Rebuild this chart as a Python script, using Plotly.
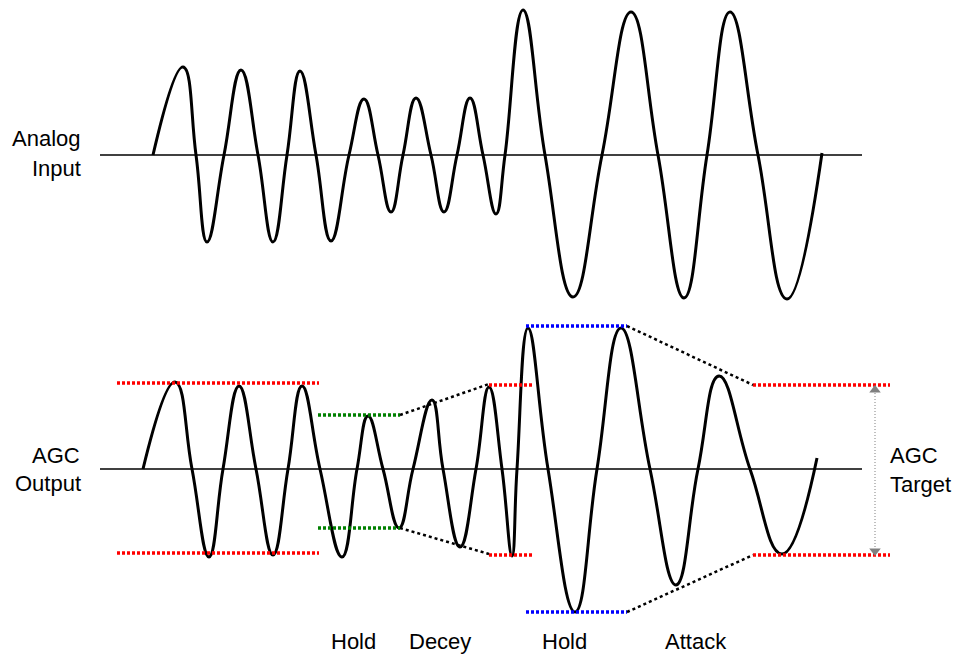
import plotly.graph_objects as go

# Analog input: start, peaks / troughs and zero crossings
input_x = [153, 183, 196, 207, 224, 241, 258, 273, 287, 300, 316, 331, 349, 364, 378,
           391, 403, 416, 431, 444, 457, 470, 483, 496, 505, 523, 545, 573, 602, 631,
           658, 684, 707, 730, 758, 787, 822]
input_y = [155, 67, 155, 242, 155, 70, 155, 242, 155, 71, 155, 241, 155, 99, 155,
           212, 155, 98, 155, 212, 155, 98, 155, 214, 155, 10, 155, 297, 155, 12,
           155, 298, 155, 12, 155, 299, 153]

# AGC output
output_x = [143, 175, 192, 209, 223, 239, 256, 273, 288, 302, 320, 342, 357, 368, 383,
            399, 413, 432, 443, 460, 476, 489, 502, 512, 517, 528, 548, 575, 597, 621,
            650, 676, 698, 719, 750, 782, 817]
output_y = [469, 382, 469, 557, 469, 386, 469, 555, 469, 386, 469, 557, 469, 416, 469,
            528, 469, 400, 469, 547, 469, 387, 469, 556, 469, 328, 469, 612, 469, 328,
            469, 585, 469, 376, 469, 554, 458]

input_zero = 155
output_zero = 469
zero_x = [100, 862]

# envelope levels (segments split by None)
target_x = [117, 319, None, 117, 319, None, 489, 533, None, 489, 533, None, 753, 890, None, 753, 890]
target_y = [383, 383, None, 553, 553, None, 385, 385, None, 555, 555, None, 385, 385, None, 555, 555]
hold1_x = [318, 400, None, 318, 400]
hold1_y = [415, 415, None, 528, 528]
hold2_x = [526, 627, None, 526, 627]
hold2_y = [326, 326, None, 612, 612]
ramp_x = [400, 489, None, 400, 489, None, 627, 753, None, 627, 753]
ramp_y = [415, 384, None, 528, 554, None, 326, 385, None, 612, 555]

span_x = [875, 875]
span_y = [390, 551]

phase_labels = ["Hold", "Decey", "Hold", "Attack"]
phase_x = [353, 440, 564, 696]

fig = go.Figure()

fig.add_trace(go.Scatter(x=zero_x, y=[input_zero] * 2, mode='lines',
                         line=dict(color='black', width=1.5)))
fig.add_trace(go.Scatter(x=zero_x, y=[output_zero] * 2, mode='lines',
                         line=dict(color='black', width=1.5)))

fig.add_trace(go.Scatter(x=input_x, y=input_y, mode='lines',
                         line=dict(color='black', width=3, shape='spline', smoothing=1.3)))
fig.add_trace(go.Scatter(x=output_x, y=output_y, mode='lines',
                         line=dict(color='black', width=3, shape='spline', smoothing=1.3)))

dots = "3px,2px"
fig.add_trace(go.Scatter(x=target_x, y=target_y, mode='lines',
                         line=dict(color='#ff0000', width=3.5, dash=dots)))
fig.add_trace(go.Scatter(x=hold1_x, y=hold1_y, mode='lines',
                         line=dict(color='#008000', width=3.5, dash=dots)))
fig.add_trace(go.Scatter(x=hold2_x, y=hold2_y, mode='lines',
                         line=dict(color='#0000ff', width=3.5, dash=dots)))
fig.add_trace(go.Scatter(x=ramp_x, y=ramp_y, mode='lines',
                         line=dict(color='black', width=2.5, dash="3px,3px")))

# AGC target span with arrow heads
fig.add_trace(go.Scatter(x=span_x, y=span_y, mode='lines',
                         line=dict(color='#808080', width=1, dash="1px,2px")))
fig.add_trace(go.Scatter(x=span_x, y=span_y, mode='markers',
                         marker=dict(symbol=['triangle-up', 'triangle-down'], size=10,
                                     color='#808080')))

font = dict(family="Liberation Sans, Arial, sans-serif", size=22, color='black')
fig.add_annotation(x=83, y=138, text="Analog", xanchor='right', showarrow=False, font=font)
fig.add_annotation(x=83, y=168, text="Input", xanchor='right', showarrow=False, font=font)
fig.add_annotation(x=82, y=455, text="AGC", xanchor='right', showarrow=False, font=font)
fig.add_annotation(x=83, y=483, text="Output", xanchor='right', showarrow=False, font=font)
fig.add_annotation(x=888, y=455, text="AGC", xanchor='left', showarrow=False, font=font)
fig.add_annotation(x=888, y=484, text="Target", xanchor='left', showarrow=False, font=font)
for label, px in zip(phase_labels, phase_x):
    fig.add_annotation(x=px, y=641, text=label, showarrow=False, font=font)

axis = dict(showline=False, zeroline=False, showgrid=False, showticklabels=False)
fig.update_layout(width=963, height=657,
                  margin=dict(l=0, r=0, t=0, b=0),
                  showlegend=False,
                  plot_bgcolor='white', paper_bgcolor='white',
                  xaxis=dict(axis, range=[0, 963]),
                  yaxis=dict(axis, range=[657, 0]))

fig.write_html("out.html", config={'displayModeBar': False},
               post_script="document.body.style.margin='0';")
